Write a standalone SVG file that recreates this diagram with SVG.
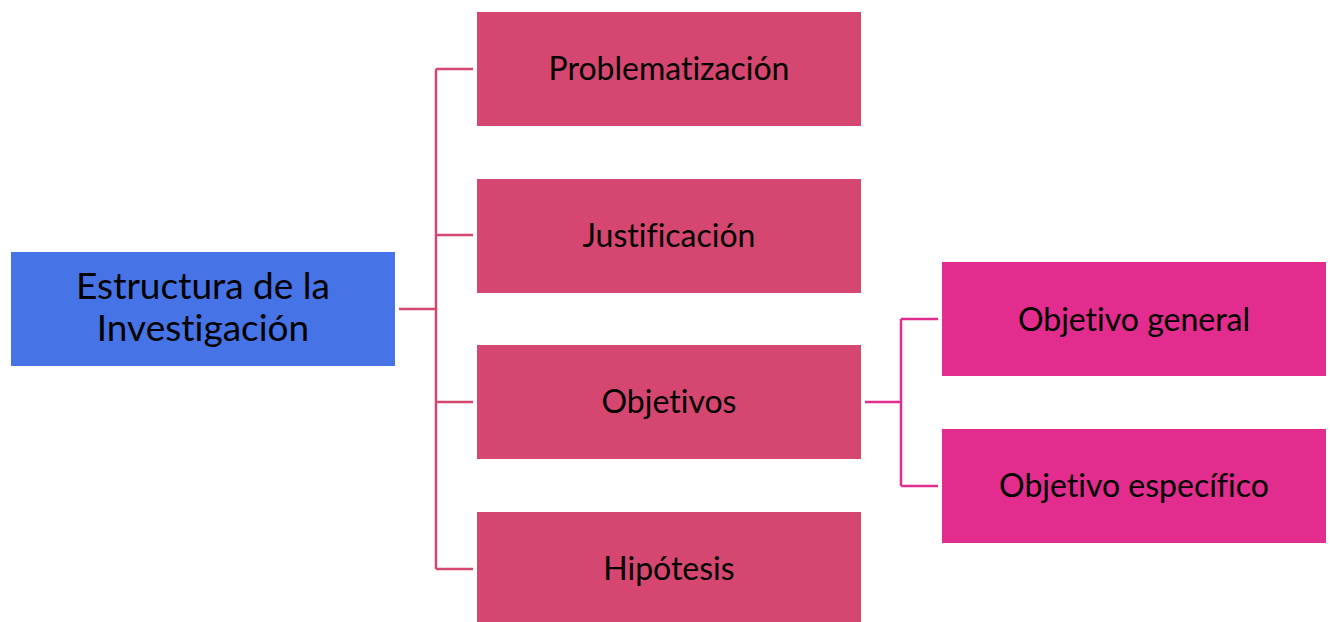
<svg xmlns="http://www.w3.org/2000/svg" width="1333" height="622" viewBox="0 0 1333 622">
<style>
.t{font-family:Lato,"Open Sans",sans-serif;fill:#000;text-anchor:middle;font-variant-ligatures:none}
.s{font-size:32px}
.b{font-size:37px}
.c1{fill:none;stroke:#D64770;stroke-width:2.5}
.c2{fill:none;stroke:#E22D8E;stroke-width:2.5}
</style>
<rect width="1333" height="622" fill="#fff"/>
<g id="connectors">
<path class="c1" d="M399 309H436M436 69V569M436 69H473M436 235H473M436 402H473M436 569H473"/>
<path class="c2" d="M865 402H901M901 319V486M901 319H938M901 486H938"/>
</g>
<g id="root">
<rect x="11" y="252" width="384" height="114" fill="#4673E6"/>
<text class="t b" x="203" y="299">Estructura de la</text>
<text class="t b" x="203" y="341">Investigación</text>
</g>
<g id="problematizacion">
<rect x="477" y="12" width="384" height="114" fill="#D54771"/>
<text class="t s" x="669" y="80">Problematización</text>
</g>
<g id="justificacion">
<rect x="477" y="179" width="384" height="114" fill="#D54771"/>
<text class="t s" x="669" y="247">Justificación</text>
</g>
<g id="objetivos">
<rect x="477" y="345" width="384" height="114" fill="#D54771"/>
<text class="t s" x="669" y="413">Objetivos</text>
</g>
<g id="hipotesis">
<rect x="477" y="512" width="384" height="114" fill="#D54771"/>
<text class="t s" x="669" y="580">Hipótesis</text>
</g>
<g id="objetivo-general">
<rect x="942" y="262" width="384" height="114" fill="#E22D8E"/>
<text class="t s" x="1134" y="331">Objetivo general</text>
</g>
<g id="objetivo-especifico">
<rect x="942" y="429" width="384" height="114" fill="#E22D8E"/>
<text class="t s" x="1134" y="497">Objetivo específico</text>
</g>
</svg>
